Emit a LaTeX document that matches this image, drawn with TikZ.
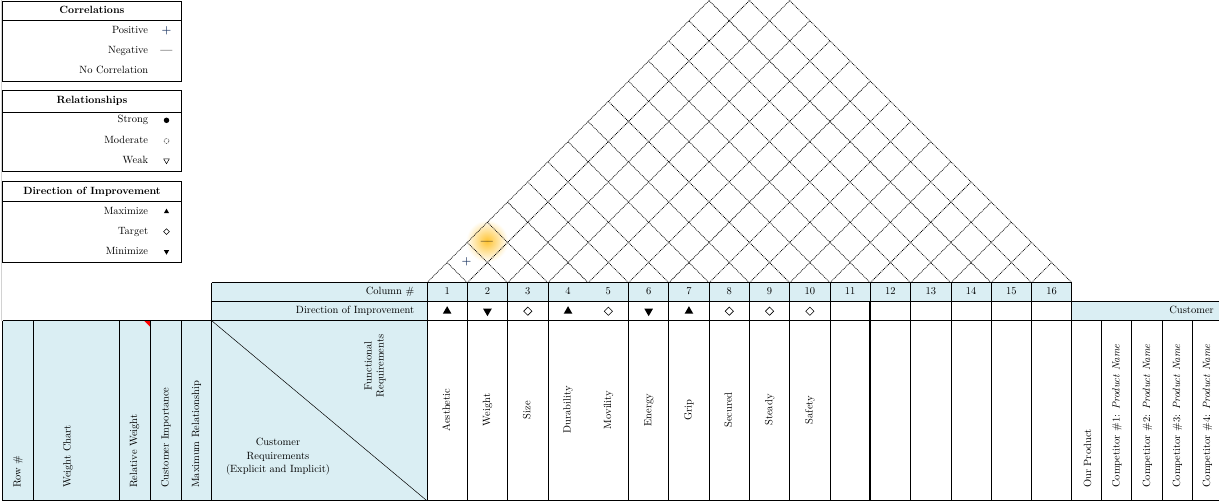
\documentclass[tikz,border=0pt]{standalone}
\usepackage{amsmath}
\usepackage{amssymb}
\usetikzlibrary{shapes.geometric}
\definecolor{hdrblue}{RGB}{218,238,243}
\definecolor{plusblue}{RGB}{31,56,100}
\definecolor{glow}{RGB}{255,196,50}
\begin{document}
\begin{tikzpicture}[x=1pt,y=-1pt,font=\fontsize{10.5}{12.5}\selectfont,
  grid/.style={draw=black,line width=0.8pt},
  thickgrid/.style={draw=black,line width=2pt},
  roof/.style={draw=black,line width=0.75pt,dash pattern=on 0.9pt off 0.9pt},
  lbl/.style={inner sep=0pt,text height=1.5ex,text depth=.25ex},
  vlbl/.style={rotate=90,anchor=west,inner sep=0pt},
  clbl/.style={rotate=90,inner sep=0pt,text height=1.5ex,text depth=.25ex},
  ttl/.style={lbl,font=\fontsize{10.5}{12.5}\selectfont\bfseries},
  upsym/.style={regular polygon,regular polygon sides=3,fill=black,inner sep=0pt,minimum size=10pt},
  downsym/.style={upsym,shape border rotate=180},
  tgtsym/.style={diamond,draw=black,line width=0.6pt,inner sep=0pt,minimum width=8.5pt,minimum height=8.5pt},
  smallsym/.style={minimum size=6.5pt,minimum width=6pt,minimum height=6pt}
]
\useasboundingbox (0,0) rectangle (1219,502);
\clip (0,0) rectangle (1219,502);
\def\xl{427}
\def\cw{40.3}
\pgfmathsetmacro\xr{\xl+16*\cw}

\fill[hdrblue] (211.7,282.7) rectangle (\xr,301.7);
\fill[hdrblue] (211.7,301.7) rectangle (\xl,320.7);
\fill[hdrblue] (\xr,301.7) rectangle (1219,320.7);
\fill[hdrblue] (2.5,320.7) rectangle (\xl,501);
\fill[red] (144,320.7) -- (150,320.7) -- (150,326.7) -- cycle;

\shade[inner color=glow,outer color=white] (466,220) rectangle (508,262);

\draw[roof] (\xl,282.7) -- ({(\xl+\xr)/2},{282.7-(\xr-\xl)/2}) -- (\xr,282.7);
\foreach \i in {1,...,15} {
  \pgfmathsetmacro\xa{\xl+\i*\cw}
  \draw[roof] (\xa,282.7) -- ({(\xa+\xr)/2},{282.7-(\xr-\xa)/2});
  \draw[roof] (\xa,282.7) -- ({(\xa+\xl)/2},{282.7-(\xa-\xl)/2});
}

\draw[gray!35,line width=0.8pt] (1.2,0) -- (1.2,320.7);

\draw[grid] (2.3,1.7) rectangle (181.7,81) (2.3,20.7) -- (181.7,20.7);
\draw[grid] (2.3,90.7) rectangle (181.7,171) (2.3,112.3) -- (181.7,112.3);
\draw[grid] (2.3,181) rectangle (181.7,262.7) (2.3,201.7) -- (181.7,201.7);

\draw[grid] (211.7,282.7) -- (\xr,282.7);
\draw[grid] (211.7,301.7) -- (1219,301.7);
\draw[grid] (2.5,320.7) -- (1219,320.7);
\draw[grid] (2.5,500.8) -- (1219,500.8);
\foreach \x in {2.5,33.3,119.3,150,181.7}
  \draw[grid] (\x,320.7) -- (\x,500.8);
\foreach \x in {1101.7,1131.7,1162.7,1192.7}
  \draw[grid] (\x,320.7) -- (\x,500.8);
\draw[grid] (211.7,282.7) -- (211.7,500.8);
\draw[grid] (\xl,282.7) -- (\xl,500.8);
\draw[grid] (\xr,282.7) -- (\xr,500.8);
\foreach \i in {1,2,3,5,6,7,8,9,10,12,13,14,15} {
  \pgfmathsetmacro\xa{\xl+\i*\cw}
  \draw[grid] (\xa,282.7) -- (\xa,500.8);
}
\pgfmathsetmacro\xa{\xl+11*\cw}
\draw[grid] (\xa,282.7) -- (\xa,301.7);
\draw[thickgrid] (\xa,301.7) -- (\xa,500.8);
\draw[line width=0.5pt] (211.7,320.7) -- (\xl,500.8);

\node[ttl] (corrtitle) at (92,11) {Correlations};
\node[lbl,anchor=east] (positive) at (148.3,30.7) {Positive};
\node[lbl,anchor=east] (negative) at (148.3,50.7) {Negative};
\node[lbl,anchor=east] (nocorr) at (148.3,70.7) {No Correlation};
\node[lbl,text=plusblue] (possym) at (166.5,30.7) {$\boldsymbol{+}$};
\node[lbl] (negsym) at (166.5,50.7) {\textbf{---}};

\node[ttl] (reltitle) at (92,100.7) {Relationships};
\node[lbl,anchor=east] (strong) at (148.3,120.3) {Strong};
\node[lbl,anchor=east] (moderate) at (148.3,141) {Moderate};
\node[lbl,anchor=east] (weak) at (148.3,161.3) {Weak};
\node[circle,fill=black,inner sep=0pt,minimum size=5.5pt] (strongsym) at (166.5,120.3) {};
\node[circle,draw=black,densely dotted,line width=0.6pt,inner sep=0pt,minimum size=5pt] (modsym) at (166.5,141) {};
\node[regular polygon,regular polygon sides=3,shape border rotate=180,draw=black,line width=0.5pt,inner sep=0pt,minimum size=6.5pt] (weaksym) at (166.5,160.5) {};

\node[ttl] (dirtitle) at (92,191.7) {Direction of Improvement};
\node[lbl,anchor=east] (maximize) at (148.3,211.7) {Maximize};
\node[lbl,anchor=east] (target) at (148.3,231.7) {Target};
\node[lbl,anchor=east] (minimize) at (148.3,251.7) {Minimize};
\node[upsym,smallsym] (maxsym) at (166.5,211.7) {};
\node[tgtsym,smallsym] (tgtsymb) at (166.5,231.7) {};
\node[downsym,smallsym] (minsym) at (166.5,251.7) {};

\node[lbl,text=plusblue] (posmark) at (466.5,262) {$\boldsymbol{+}$};
\node[lbl] (negmark) at (487,241.5) {\textbf{---}};

\node[lbl,anchor=east] (colhdr) at (414.5,292.2) {Column \#};
\node[lbl,anchor=east] (dirhdr) at (414.5,311.2) {Direction of Improvement};
\node[lbl,anchor=east] (custhdr) at (1214,311.2) {Customer};
\foreach \i in {1,...,16}
  \node[lbl] (col\i) at ({\xl+(\i-0.5)*\cw},292.2) {\i};
\foreach \i/\s in {1/upsym,2/downsym,3/tgtsym,4/upsym,5/tgtsym,6/downsym,7/upsym,8/tgtsym,9/tgtsym,10/tgtsym}
  \node[\s] (dir\i) at ({\xl+(\i-0.5)*\cw},311.2) {};
\foreach \i/\t in {1/Aesthetic,2/Weight,3/Size,4/Durability,5/Movility,6/Energy,7/Grip,8/Secured,9/Steady,10/Safety}
  \node[clbl] (fr\i) at ({\xl+(\i-0.5)*\cw},410) {\t};

\node[rotate=90,align=center,inner sep=0pt,font=\fontsize{10.5}{12}\selectfont] (funcreq) at (375,366) {Functional\\Requirements};
\node[align=center,inner sep=0pt,font=\fontsize{10.5}{13.5}\selectfont] (custreq) at (278,457) {Customer\\Requirements\\(Explicit and Implicit)};

\foreach \x/\t/\n in {18/Row \#/rownum,68/Weight Chart/wchart,134.5/Relative Weight/relw,166/Customer Importance/custimp,196.5/Maximum Relationship/maxrel}
  \node[vlbl] (\n) at (\x,488) {\t};
\foreach \x/\t/\n in {1087.5/Our Product/ours,1117/{Competitor \#1: \textit{Product Name}}/comp1,1147.5/{Competitor \#2: \textit{Product Name}}/comp2,1177.5/{Competitor \#3: \textit{Product Name}}/comp3,1207.5/{Competitor \#4: \textit{Product Name}}/comp4}
  \node[vlbl] (\n) at (\x,488) {\t};
\end{tikzpicture}
\end{document}
